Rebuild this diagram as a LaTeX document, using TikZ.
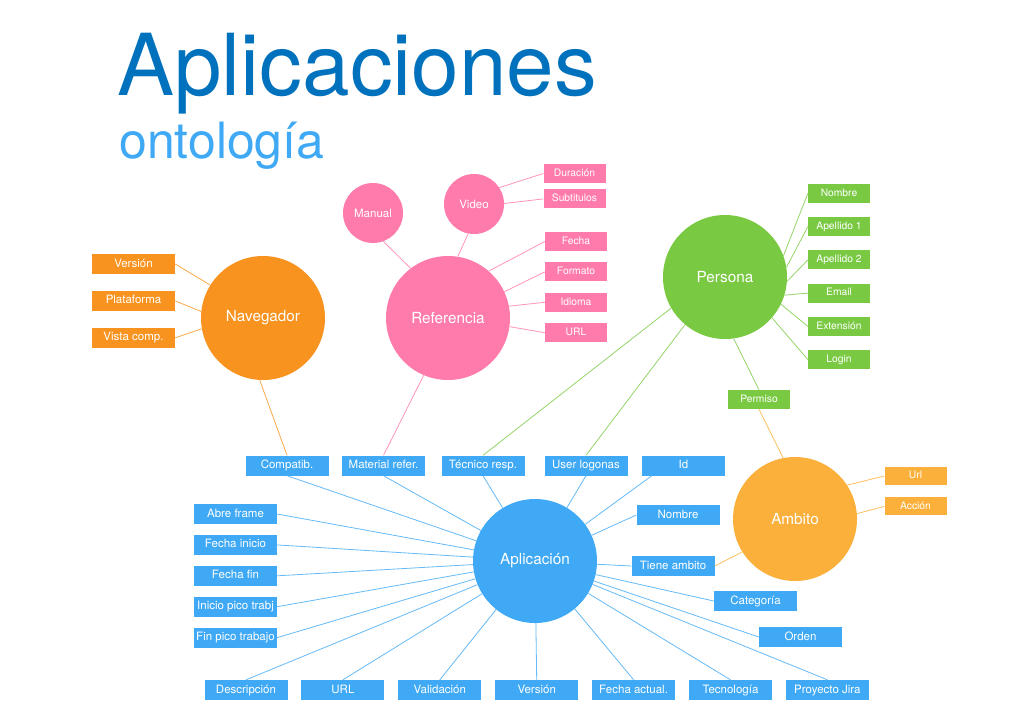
\documentclass[tikz,border=0pt]{standalone}
\usepackage{fontspec}
\setmainfont{TeX Gyre Heros}
\usepackage{xcolor}
\usepackage{tikz}
\usetikzlibrary{positioning}
\definecolor{apblue}{HTML}{3FA9F5}
\definecolor{appink}{HTML}{FF7BAC}
\definecolor{apgreen}{HTML}{7AC943}
\definecolor{aporange}{HTML}{F7931E}
\definecolor{apamber}{HTML}{FBB03B}
\definecolor{aptitle}{HTML}{0071BC}

\begin{document}
\begin{tikzpicture}[
  x=1pt, y=-1pt,
  hub/.style={circle, fill=#1, text=white, inner sep=0pt, minimum size=124pt,
              font=\fontsize{15.3}{18}\selectfont},
  bubble/.style={hub=#1, minimum size=60pt, font=\fontsize{11.5}{14}\selectfont},
  field/.style={fill=#1, text=white, inner sep=0pt, minimum width=83pt, minimum height=20pt,
                text height=8.4pt, text depth=2.4pt, font=\fontsize{11.5}{13}\selectfont},
  field/.default=apblue,
  chip/.style={field=#1, minimum width=62pt, minimum height=19pt,
               text height=7.6pt, text depth=2.2pt, font=\fontsize{10.3}{12}\selectfont},
  wire/.style={draw=#1!80, line width=0.8pt},
  wire/.default=apblue,
]
\fill[white] (0,0) rectangle (1024,724);
\useasboundingbox (0,0) rectangle (1024,724);

\node[anchor=base west, text=aptitle, inner sep=0pt, font=\fontsize{85.5}{90}\selectfont] (title) at (117,95) {Aplicaciones};
\node[anchor=base west, text=apblue, inner sep=0pt, font=\fontsize{50}{54}\selectfont] (subtitle) at (119,158) {ontología};

\node[hub=aporange] (nav) at (263,318) {Navegador};
\node[hub=appink] (ref) at (448,318) {Referencia};
\node[bubble=appink] (manual) at (373,213) {Manual};
\node[bubble=appink] (video) at (474,204) {Video};
\node[hub=apgreen] (per) at (725,277) {Persona};
\node[hub=apblue] (app) at (535,561) {Aplicación};
\node[hub=apamber] (amb) at (795,519) {Ambito};

\node[field=aporange] (version) at (133.5,264) {Versión};
\node[field=aporange, below=16.5pt of version] (plataforma) {Plataforma};
\node[field=aporange, below=16.5pt of plataforma] (vista) {Vista comp.};

\node[chip=appink] (duracion) at (574.5,173.5) {Duración};
\node[chip=appink, below=6pt of duracion] (subtitulos) {Subtitulos};
\node[chip=appink] (fecha) at (576,241.5) {Fecha};
\node[chip=appink, below=11pt of fecha] (formato) {Formato};
\node[chip=appink, below=11pt of formato] (idioma) {Idioma};
\node[chip=appink, below=11pt of idioma] (urlref) {URL};

\node[chip=apgreen] (nombreper) at (839,193.5) {Nombre};
\node[chip=apgreen, below=13.8pt of nombreper] (apellidoa) {Apellido 1};
\node[chip=apgreen, below=13.8pt of apellidoa] (apellidob) {Apellido 2};
\node[chip=apgreen, below=13.8pt of apellidob] (email) {Email};
\node[chip=apgreen, below=13.8pt of email] (extension) {Extensión};
\node[chip=apgreen, below=13.8pt of extension] (login) {Login};
\node[chip=apgreen] (permiso) at (759,399.5) {Permiso};

\node[chip=apamber, minimum height=18pt] (urlamb) at (915.5,476) {Url};
\node[chip=apamber, minimum height=18pt, below=12pt of urlamb] (accion) {Acción};

\node[field] (compatib) at (287,465.5) {Compatib.};
\node[field] (material) at (383.5,465.5) {Material refer.};
\node[field] (tecnico) at (483,465.5) {Técnico resp.};
\node[field] (logonas) at (586,465.5) {User logonas};
\node[field] (id) at (683.5,465.5) {Id};
\node[field] (nombreapp) at (678,515) {Nombre};
\node[field] (tiene) at (673,566) {Tiene ambito};
\node[field] (categoria) at (755.5,601) {Categoría};
\node[field] (orden) at (800.5,637) {Orden};

\node[field] (abre) at (235.5,514) {Abre frame};
\node[field, below=10.5pt of abre] (inicio) {Fecha inicio};
\node[field, below=10.5pt of inicio] (fin) {Fecha fin};
\node[field, below=10.5pt of fin] (picoa) {Inicio pico trabj};
\node[field, below=10.5pt of picoa] (picob) {Fin pico trabajo};

\node[field] (descripcion) at (246,690) {Descripción};
\node[field, right=13.5pt of descripcion] (urlapp) {URL};
\node[field, right=13.5pt of urlapp] (validacion) {Validación};
\node[field, right=13.5pt of validacion] (versionapp) {Versión};
\node[field, right=13.5pt of versionapp] (actual) {Fecha actual.};
\node[field, right=13.5pt of actual] (tecnologia) {Tecnología};
\node[field, right=13.5pt of tecnologia] (jira) {Proyecto Jira};

\draw[wire=aporange] (nav.148) -- (version.east);
\draw[wire=aporange] (nav.174) -- (plataforma.east);
\draw[wire=aporange] (nav.190) -- (vista.east);
\draw[wire=aporange] (nav.267) -- (compatib.north);

\draw[wire=appink] (manual.-70) -- (ref.127);
\draw[wire=appink] (video.259) -- (ref.81);
\draw[wire=appink] (video.33) -- (duracion.west);
\draw[wire=appink] (video.1) -- (subtitulos.west);
\draw[wire=appink] (ref.49) -- (fecha.west);
\draw[wire=appink] (ref.25) -- (formato.west);
\draw[wire=appink] (ref.11) -- (idioma.west);
\draw[wire=appink] (ref.-8) -- (urlref.west);
\draw[wire=appink] (ref.247) -- (material.north);

\draw[wire=apgreen] (per.20) -- (nombreper.west);
\draw[wire=apgreen] (per.9) -- (apellidoa.west);
\draw[wire=apgreen] (per.-4) -- (apellidob.west);
\draw[wire=apgreen] (per.-17) -- (email.west);
\draw[wire=apgreen] (per.-26) -- (extension.west);
\draw[wire=apgreen] (per.-41) -- (login.west);
\draw[wire=apgreen] (per.-82) -- (permiso.north);
\draw[wire=apgreen] (per.210) -- (tecnico.north);
\draw[wire=apgreen] (per.230) -- (logonas.north);

\draw[wire=apamber] (permiso.south) -- (amb.101);
\draw[wire=apamber] (amb.33) -- (urlamb.west);
\draw[wire=apamber] (amb.5) -- (accion.west);
\draw[wire=apamber] (amb.212) -- (tiene.east);

\foreach \n in {compatib, material, tecnico, logonas}
  \draw[wire] (\n.south) -- (app);
\draw[wire] ([xshift=10pt]id.south west) -- (app);
\foreach \n in {nombreapp, tiene, categoria, orden}
  \draw[wire] (\n.west) -- (app);
\foreach \n in {abre, inicio, fin, picoa, picob}
  \draw[wire] (\n.east) -- (app);
\foreach \n in {descripcion, urlapp, validacion, versionapp, actual, tecnologia, jira}
  \draw[wire] (\n.north) -- (app);
\end{tikzpicture}
\end{document}
